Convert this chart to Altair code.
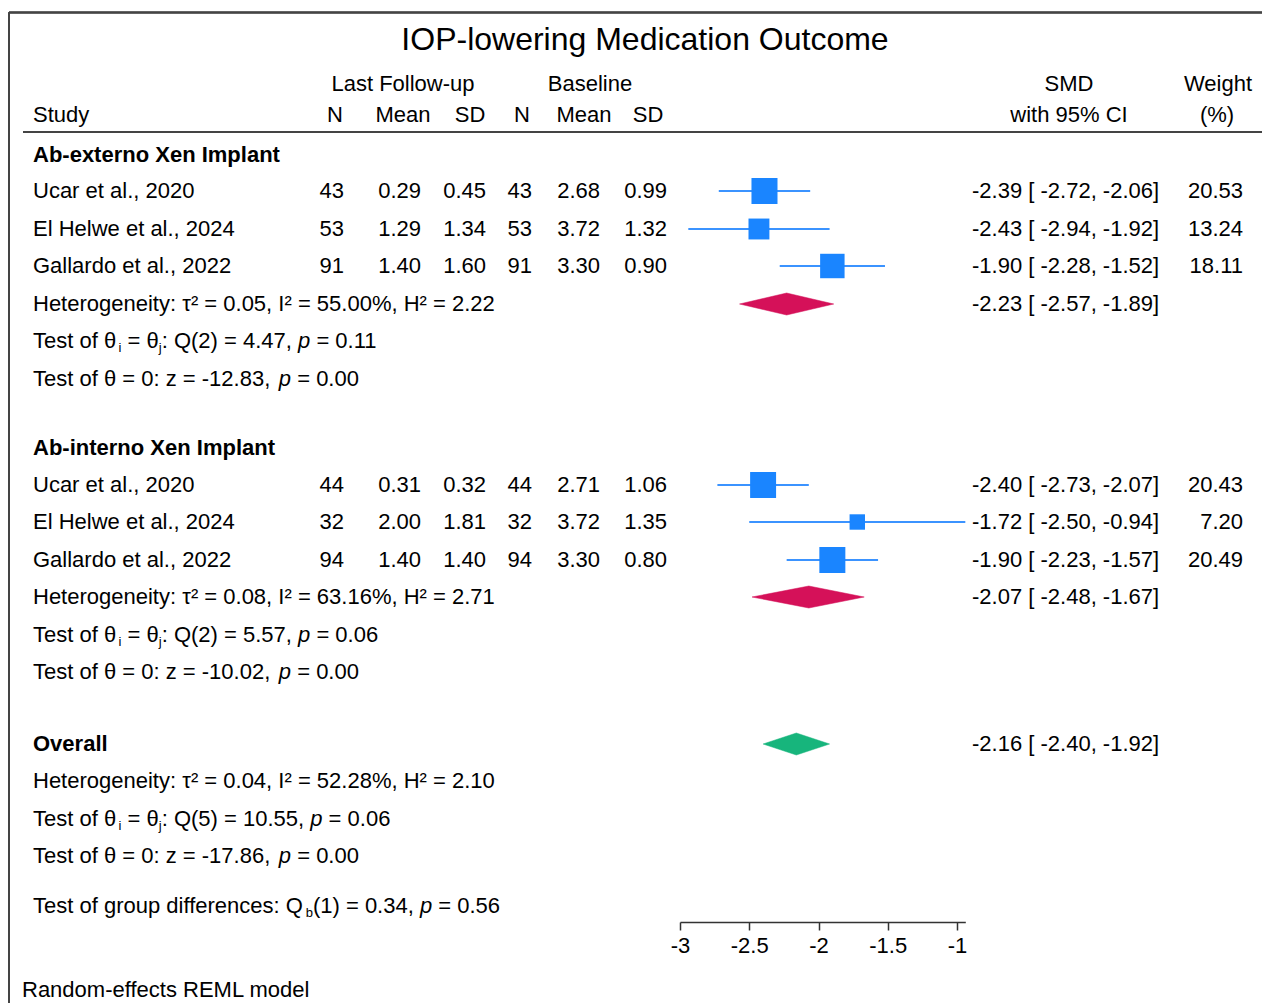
import altair as alt
import pandas as pd

# ---------------- data ----------------
title_text = "IOP-lowering Medication Outcome"
group_names = ["Ab-externo Xen Implant", "Ab-interno Xen Implant"]
studies = ["Ucar et al., 2020", "El Helwe et al., 2024", "Gallardo et al., 2022"]

ext_n1 = [43, 53, 91]
ext_mean1 = [0.29, 1.29, 1.40]
ext_sd1 = [0.45, 1.34, 1.60]
ext_n2 = [43, 53, 91]
ext_mean2 = [2.68, 3.72, 3.30]
ext_sd2 = [0.99, 1.32, 0.90]
ext_smd = [-2.39, -2.43, -1.90]
ext_lo = [-2.72, -2.94, -2.28]
ext_hi = [-2.06, -1.92, -1.52]
ext_w = [20.53, 13.24, 18.11]

int_n1 = [44, 32, 94]
int_mean1 = [0.31, 2.00, 1.40]
int_sd1 = [0.32, 1.81, 1.40]
int_n2 = [44, 32, 94]
int_mean2 = [2.71, 3.72, 3.30]
int_sd2 = [1.06, 1.35, 0.80]
int_smd = [-2.40, -1.72, -1.90]
int_lo = [-2.73, -2.50, -2.23]
int_hi = [-2.07, -0.94, -1.57]
int_w = [20.43, 7.20, 20.49]

# subgroup / overall summaries: externo, interno, overall
sum_smd = [-2.23, -2.07, -2.16]
sum_lo = [-2.57, -2.48, -2.40]
sum_hi = [-1.89, -1.67, -1.92]
het_tau2 = [0.05, 0.08, 0.04]
het_i2 = [55.00, 63.16, 52.28]
het_h2 = [2.22, 2.71, 2.10]
q_df = [2, 2, 5]
q_val = [4.47, 5.57, 10.55]
q_p = [0.11, 0.06, 0.06]
z_val = [-12.83, -10.02, -17.86]
z_p = [0.00, 0.00, 0.00]
qb_df, qb_val, qb_p = 1, 0.34, 0.56

axis_ticks = [-3, -2.5, -2, -1.5, -1]
x_domain = [-3, -0.94]

# ---------------- layout (page pixels) ----------------
W, H = 1254, 995
OFF = 8
def cx(x):
    return x - OFF
def cy(y):
    return y - OFF

FS = 22
SUB = 13
FONT = "Liberation Sans"
LEFT = 33
BLUE = "#1a85ff"
CI_BLUE = "#3b93ff"
RED = "#d51159"
GREEN = "#17b57c"

grp_rows = [
    dict(head=155, st=[191, 229, 266], het=304, q=341, z=379),
    dict(head=448, st=[485, 522, 560], het=597, q=635, z=672),
    dict(head=744, st=[], het=781, q=819, z=856),
]
diamond_y = [304, 597, 744]
qb_y = 906
note_y = 990
num_right = [344, 421, 486, 532, 600, 667]
hdr_center = [335, 403, 470, 522, 584, 648]
smd_left = 972
w_right = 1243

AW = {' ': 278, '(': 333, ')': 333, ',': 278, '-': 333, '.': 278, ':': 278,
      '=': 584, '%': 889, 'Q': 778, 'T': 611, 'a': 556, 'b': 556, 'c': 500,
      'd': 556, 'e': 556, 'f': 278, 'g': 556, 'i': 222, 'j': 222, 'n': 556,
      'o': 556, 'p': 556, 'r': 333, 's': 500, 't': 278, 'u': 556, 'z': 500,
      '\u03b8': 556}
for d in "0123456789":
    AW[d] = 556

def tw(s, size):
    return sum(AW.get(ch, 556) for ch in s) * size / 1000.0

texts = []
def add(x, y, t, k):
    texts.append(dict(x=cx(x), y=cy(y), t=t, k=k))

def segs(pieces, x0, y):
    x = x0
    for txt, kind in pieces:
        size = SUB if kind == "sub" else FS
        lead = len(txt) - len(txt.lstrip(" "))
        x += tw(" " * lead, size)
        body = txt.lstrip(" ")
        if body.strip():
            add(x, y + (7 if kind == "sub" else 0), body.rstrip(" "), kind)
        x += tw(body, size)

# title and headers
add(645, 40, title_text, "title")
add(403, 84, "Last Follow-up", "center")
add(590, 84, "Baseline", "center")
add(1069, 84, "SMD", "center")
add(1218, 84, "Weight", "center")
add(LEFT, 115, "Study", "left")
for c, h in zip(hdr_center, ["N", "Mean", "SD", "N", "Mean", "SD"]):
    add(c, 115, h, "center")
add(1069, 115, "with 95% CI", "center")
add(1217, 115, "(%)", "center")

forest = []
groups = [
    (ext_n1, ext_mean1, ext_sd1, ext_n2, ext_mean2, ext_sd2, ext_smd, ext_lo, ext_hi, ext_w),
    (int_n1, int_mean1, int_sd1, int_n2, int_mean2, int_sd2, int_smd, int_lo, int_hi, int_w),
]
for gi, g in enumerate(groups):
    rows = grp_rows[gi]
    add(LEFT, rows["head"], group_names[gi], "bold")
    n1, m1, s1, n2, m2, s2, smd, lo, hi, w = g
    for i, yy in enumerate(rows["st"]):
        add(LEFT, yy, studies[i], "left")
        vals = [f"{n1[i]}", f"{m1[i]:.2f}", f"{s1[i]:.2f}", f"{n2[i]}", f"{m2[i]:.2f}", f"{s2[i]:.2f}"]
        for r, v in zip(num_right, vals):
            add(r, yy, v, "right")
        add(smd_left, yy, f"{smd[i]:.2f} [ {lo[i]:.2f}, {hi[i]:.2f}]", "left")
        add(w_right, yy, f"{w[i]:.2f}", "right")
        forest.append(dict(y=cy(yy), smd=smd[i], lo=lo[i], hi=hi[i], w=w[i]))

add(LEFT, grp_rows[2]["head"], "Overall", "bold")
for k in range(3):
    rows = grp_rows[k]
    add(LEFT, rows["het"],
        f"Heterogeneity: \u03c4\u00b2 = {het_tau2[k]:.2f}, I\u00b2 = {het_i2[k]:.2f}%, H\u00b2 = {het_h2[k]:.2f}",
        "left")
    segs([("Test of \u03b8", "left"), ("i", "sub"), (" = \u03b8", "left"), ("j", "sub"),
          (f": Q({q_df[k]}) = {q_val[k]:.2f}, ", "left"), ("p", "ital"), (f" = {q_p[k]:.2f}", "left")],
         LEFT, rows["q"])
    segs([(f"Test of \u03b8 = 0: z = {z_val[k]:.2f}, ", "left"), ("p", "ital"), (f" = {z_p[k]:.2f}", "left")],
         LEFT, rows["z"])
    add(smd_left, diamond_y[k], f"{sum_smd[k]:.2f} [ {sum_lo[k]:.2f}, {sum_hi[k]:.2f}]", "left")

segs([("Test of group differences: Q", "left"), ("b", "sub"), (f"({qb_df}) = {qb_val:.2f}, ", "left"),
      ("p", "ital"), (f" = {qb_p:.2f}", "left")], LEFT, qb_y)
add(22, note_y, "Random-effects REML model", "left")

tdf = pd.DataFrame(texts)
fdf = pd.DataFrame(forest)

# diamond outline points, built from the summary estimates
dia = []
HALF = 11
for k in range(3):
    yy = cy(diamond_y[k])
    col = "green" if k == 2 else "red"
    pts = [(sum_lo[k], yy), (sum_smd[k], yy - HALF), (sum_hi[k], yy), (sum_smd[k], yy + HALF)]
    for j, (xv, yv) in enumerate(pts):
        dia.append(dict(grp=k, col=col, ord=j, x=xv, y=yv))
ddf = pd.DataFrame(dia)

# ---------------- chart ----------------
xscale = alt.Scale(domain=x_domain, range=[cx(680), cx(680) + (x_domain[1] - x_domain[0]) * 138.5],
                   nice=False, zero=False)
ypix = alt.Y("y:Q", scale=None, axis=None)
yid = alt.Y("y:Q", scale=alt.Scale(domain=[0, H], range=[0, H], zero=False, nice=False), axis=None)

ci = alt.Chart(fdf).mark_rule(color=CI_BLUE, strokeWidth=2).encode(
    x=alt.X("lo:Q", scale=xscale,
            axis=alt.Axis(values=axis_ticks, labelExpr="datum.value + ''", orient="bottom",
                          offset=cy(922) - H, grid=False, domainColor="#333333",
                          tickColor="#333333", domainWidth=1.5, tickWidth=1.5, tickSize=8,
                          labelFontSize=FS, labelFont=FONT, labelColor="#000000",
                          labelPadding=5, title=None, labelFlush=False, labelOverlap=False)),
    x2="hi:Q",
    y=ypix,
)
sq = alt.Chart(fdf).mark_square(color=BLUE, opacity=1, filled=True).encode(
    x=alt.X("smd:Q", scale=xscale, axis=None),
    y=ypix,
    size=alt.Size("w:Q", scale=alt.Scale(type="linear", domain=[0, 25], range=[0, 825], zero=True),
                  legend=None),
)

def diamond_layer(col, color):
    return alt.Chart(ddf).transform_filter(f"datum.col == '{col}'").mark_line(
        fill=color, stroke=color, strokeWidth=0.5, interpolate="linear-closed").encode(
        x=alt.X("x:Q", scale=xscale, axis=None),
        y=yid,
        detail="grp:N",
        order="ord:Q",
    )

dia_red = diamond_layer("red", RED)
dia_green = diamond_layer("green", GREEN)

def text_layer(kind, **mk):
    base = dict(font=FONT, fontSize=FS, color="#000000", baseline="middle", align="left")
    base.update(mk)
    return alt.Chart(tdf).transform_filter(f"datum.k == '{kind}'").mark_text(**base).encode(
        x=alt.X("x:Q", scale=None, axis=None),
        y=alt.Y("y:Q", scale=None, axis=None),
        text="t:N",
    )

layers = [
    text_layer("left"),
    text_layer("bold", fontWeight="bold"),
    text_layer("right", align="right"),
    text_layer("center", align="center"),
    text_layer("ital", fontStyle="italic"),
    text_layer("sub", fontSize=SUB),
    text_layer("title", align="center", fontSize=32),
]

frame_top = alt.Chart(fdf).mark_rule(color="#444444", strokeWidth=1.5).encode(
    x=alt.value(1), x2=alt.value(W), y=alt.value(cy(12.5)))
frame_left = alt.Chart(fdf).mark_rule(color="#444444", strokeWidth=1.5).encode(
    x=alt.value(1), y=alt.value(cy(12.5)), y2=alt.value(H))
hdr_line = alt.Chart(fdf).mark_rule(color="#444444", strokeWidth=1.5).encode(
    x=alt.value(cx(23)), x2=alt.value(W), y=alt.value(cy(132)))

chart = alt.layer(
    frame_top, frame_left, hdr_line, ci, sq, dia_red, dia_green, *layers
).resolve_scale(x="independent", y="independent", size="independent").properties(
    width=W, height=H, autosize="none", padding=0, background="white"
).configure_view(stroke=None)

chart.save("out.html", embed_options={"renderer": "svg", "actions": False})
